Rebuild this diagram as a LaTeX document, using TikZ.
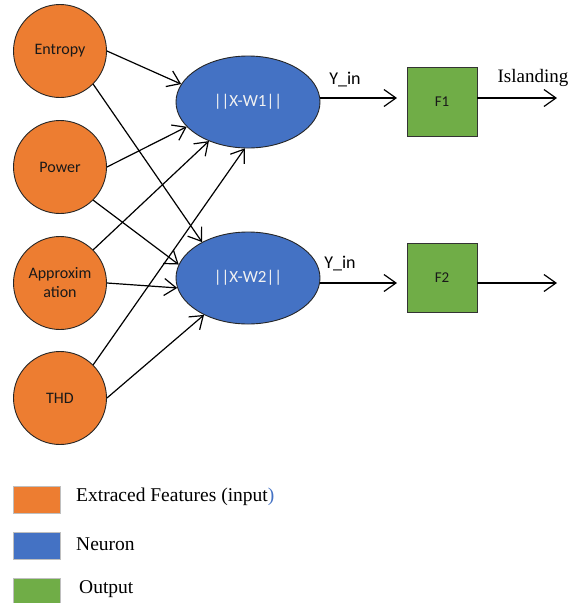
\documentclass[tikz,border=0pt]{standalone}
\usepackage{fontspec}
\setmainfont{Liberation Serif}
\newfontfamily\calib{Carlito}
\usetikzlibrary{shapes.geometric,arrows.meta}
\definecolor{inorange}{HTML}{ED7D31}
\definecolor{neublue}{HTML}{4472C4}
\definecolor{outgreen}{HTML}{70AD47}
\begin{document}
\begin{tikzpicture}[x=1pt,y=-1pt,
  feat/.style={circle,draw=black!85,line width=0.9pt,fill=inorange,minimum size=93pt,inner sep=0pt,align=center,text=black!90,font=\calib\fontsize{16}{19}\selectfont},
  neu/.style={ellipse,draw=black!85,line width=0.9pt,fill=neublue,minimum width=144pt,minimum height=92pt,inner sep=0pt,text=white!95!black,font=\calib\fontsize{17}{20}\selectfont},
  outbox/.style={rectangle,draw=black!80,line width=0.9pt,fill=outgreen,minimum width=70pt,minimum height=69pt,inner sep=0pt,text=black!90,font=\calib\fontsize{15}{18}\selectfont},
  conn/.style={line width=1.2pt,-{Straight Barb[length=12pt,width=17pt,line width=1.2pt]}},
  leg/.style={rectangle,draw=black!25,line width=0.8pt,minimum width=47pt,minimum height=27pt,inner sep=0pt},
  legtext/.style={anchor=west,inner sep=0pt,font=\fontsize{19.5}{22}\selectfont},
  lab/.style={inner sep=0pt,font=\calib\fontsize{18}{21}\selectfont}
]
\useasboundingbox (0,0) rectangle (578,603);
% inputs
\node[feat] (e) at (60,51) {Entropy};
\node[feat] (p) at (60,167) {Power};
\node[feat] (a) at (60,283) {Approxim\\ation};
\node[feat] (t) at (60,398) {THD};
% neurons
\node[neu] (w1) at (248,102) {||X-W1||};
\node[neu] (w2) at (248,278) {||X-W2||};
% outputs
\node[outbox] (f1) at (442,102) {F1};
\node[outbox] (f2) at (442,278) {F2};
% connections
\draw[conn] (e.0) -- (w1.165);
\draw[conn] (e.-45) -- (w2.142);
\draw[conn] (p.0) -- (w1.202);
\draw[conn] (p.-45) -- (w2.169);
\draw[conn] (a.45) -- (w1.225);
\draw[conn] (a.0) -- (w2.188);
\draw[conn] (t.45) -- (w1.266);
\draw[conn] (t.0) -- (w2.220);
% outputs arrows
\coordinate (y1) at (397,98);
\coordinate (y2) at (397,283);
\coordinate (o1) at (557,98);
\coordinate (o2) at (557,283);
\draw[conn] (w1.east |- y1) -- (y1);
\draw[conn] (w2.east |- y2) -- (y2);
\draw[conn] (f1.east |- o1) -- (o1);
\draw[conn] (f2.east |- o2) -- (o2);
\node[lab] (l1) at (345,80) {Y\_in};
\node[lab] (l2) at (340,264) {Y\_in};
\node[inner sep=0pt,font=\fontsize{19}{22}\selectfont] (isl) at (533,78) {Islanding};
% legend
\node[leg,fill=inorange] (k1) at (36.5,499.5) {};
\node[leg,fill=neublue] (k2) at (36.5,546) {};
\node[leg,fill=outgreen] (k3) at (36.5,592) {};
\node[legtext] (t1) at (76,497) {Extraced Features (input\textcolor{neublue}{)}};
\node[legtext] (t2) at (76,544) {Neuron};
\node[legtext] (t3) at (79,589) {Output};
\end{tikzpicture}
\end{document}
